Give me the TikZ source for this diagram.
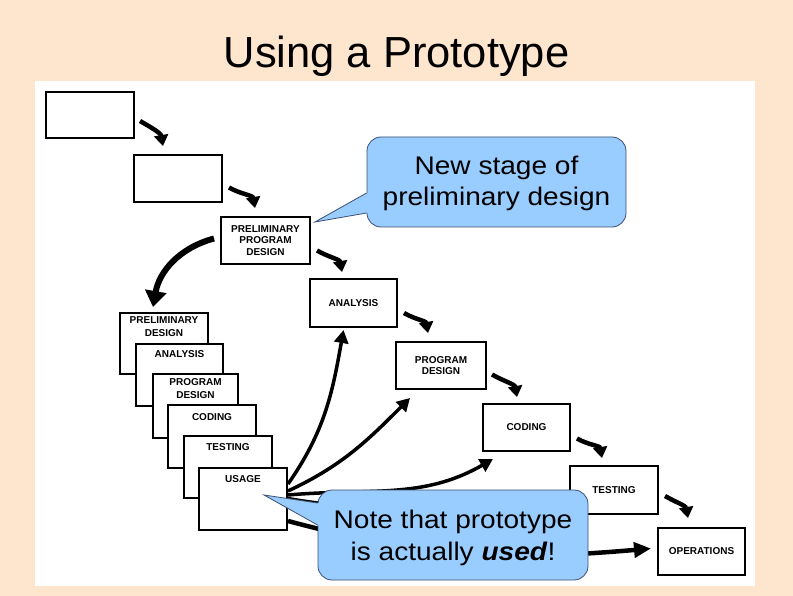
\documentclass[tikz,border=0pt]{standalone}
\usepackage{fontspec}
\setmainfont{Liberation Sans}
\newfontfamily\calfont[FakeStretch=1.1]{Liberation Sans}
\usetikzlibrary{arrows.meta}
\definecolor{peach}{RGB}{254,229,206}
\definecolor{calfill}{RGB}{153,204,255}
\definecolor{caldraw}{RGB}{60,80,115}
\begin{document}
\begin{tikzpicture}[x=1pt,y=1pt,
  box/.style={draw=black,line width=2pt,fill=white,inner sep=0pt,anchor=north west,
              font=\fontsize{10}{11.5}\selectfont\bfseries,align=center},
  lbl/.style={font=\fontsize{10}{12.5}\selectfont\bfseries,align=center,inner sep=0pt,anchor=north},
  stepar/.style={line width=4.5pt,-{Triangle[length=11pt,width=14pt]}},
  bigar/.style={line width=6pt,-{Triangle[length=16pt,width=21pt]}},
  usear/.style={line width=3.5pt,-{Triangle[length=13pt,width=14pt]}},
  cbox/.style={fill=calfill,draw=caldraw,line width=0.8pt,rounded corners=14pt,inner sep=0pt},
  ctext/.style={font=\calfont\fontsize{25.5}{31}\selectfont,anchor=base,inner sep=0pt},
]
\fill[peach] (0,0) rectangle (793,-596);
\useasboundingbox (0,0) rectangle (793,-596);
\fill[white] (35,-81) rectangle (755,-586);

\node[font=\fontsize{43.5}{50}\selectfont,anchor=base,inner sep=0pt] (title) at (396.5,-68) {Using a Prototype};

% main cascade
\node[box,minimum width=88pt,minimum height=46pt] (A) at (45,-91) {};
\node[box,minimum width=88pt,minimum height=47pt] (B) at (133,-154) {};
\node[box,minimum width=89pt,minimum height=47pt] (PPD) at (220,-216) {PRELIMINARY\\PROGRAM\\DESIGN};
\node[box,minimum width=87pt,minimum height=48pt] (ANA) at (309,-278) {ANALYSIS};
\node[box,minimum width=90pt,minimum height=47pt] (PD) at (395,-341) {PROGRAM\\DESIGN};
\node[box,minimum width=87pt,minimum height=47pt] (COD) at (482,-403) {CODING};
\node[box,minimum width=88pt,minimum height=48pt] (TST) at (569,-465) {TESTING};
\node[box,minimum width=87pt,minimum height=47pt] (OPS) at (657,-527) {OPERATIONS};

% prototype stack
\node[box,minimum width=88pt,minimum height=61pt] (s1) at (119,-312) {};
\node[lbl] (s1t) at ([yshift=-4.5pt]s1.north) {PRELIMINARY\\DESIGN};
\node[box,minimum width=87pt,minimum height=62pt] (s2) at (135,-343) {};
\node[lbl] (s2t) at ([yshift=-7.5pt]s2.north) {ANALYSIS};
\node[box,minimum width=85pt,minimum height=64pt] (s3) at (152,-373) {};
\node[lbl] (s3t) at ([yshift=-5.5pt]s3.north) {PROGRAM\\DESIGN};
\node[box,minimum width=88pt,minimum height=63pt] (s4) at (167,-404) {};
\node[lbl] (s4t) at ([yshift=-9.5pt]s4.north) {CODING};
\node[box,minimum width=88pt,minimum height=62pt] (s5) at (183,-435) {};
\node[lbl] (s5t) at ([yshift=-8.5pt]s5.north) {TESTING};
\node[box,minimum width=88pt,minimum height=62pt] (U) at (198,-467) {};
\node[lbl] (Ut) at ([yshift=-8.5pt]U.north) {USAGE};

% step arrows
\draw[stepar] ([shift={(5pt,-6pt)}]A.east) to[out=-30,in=100] ([shift={(30pt,8pt)}]B.north west);
\draw[stepar] ([shift={(6pt,-9pt)}]B.east) to[out=-30,in=100] ([shift={(35pt,8pt)}]PPD.north west);
\draw[stepar] ([shift={(6pt,-10pt)}]PPD.east) to[out=-30,in=100] ([shift={(33pt,6pt)}]ANA.north west);
\draw[stepar] ([shift={(6pt,-10pt)}]ANA.east) to[out=-30,in=100] ([shift={(33pt,8pt)}]PD.north west);
\draw[stepar] ([shift={(5pt,-9pt)}]PD.east) to[out=-30,in=100] ([shift={(35pt,6pt)}]COD.north west);
\draw[stepar] ([shift={(6pt,-11pt)}]COD.east) to[out=-30,in=100] ([shift={(33pt,7pt)}]TST.north west);
\draw[stepar] ([shift={(6pt,-6pt)}]TST.east) to[out=-30,in=100] ([shift={(31pt,9pt)}]OPS.north west);

% back to prototype
\draw[bigar] ([shift={(-6pt,2pt)}]PPD.west) to[out=195,in=80] ([shift={(34pt,5pt)}]s1.north west);

% usage arrows
\draw[usear] ([yshift=15pt]U.east) to[out=55,in=-100] ([shift={(-10pt,-2pt)}]ANA.south);
\draw[usear] ([yshift=8pt]U.east) to[out=25,in=-135] ([shift={(-31pt,-8pt)}]PD.south);
\draw[usear] ([yshift=4pt]U.east) to[out=5,in=-150] ([shift={(11pt,-7pt)}]COD.south west);
\draw[usear,line width=2.5pt] ([yshift=1pt]U.east) to[out=-10,in=180] ([yshift=-10pt]TST.west);
\draw[usear,line width=4.5pt,-{Triangle[length=17pt,width=15pt]}] ([yshift=-22pt]U.east) to[out=-15,in=185] ([shift={(-6pt,3pt)}]OPS.west);

% callout 1
\node[cbox,minimum width=259pt,minimum height=90pt] (c1) at (496.5,-182) {};
\coordinate (c1tip) at ([shift={(4pt,-6pt)}]PPD.north east);
\coordinate (c1a) at ([yshift=-11pt]c1.west);
\coordinate (c1b) at ([yshift=-31pt]c1.west);
\fill[calfill] (c1a) -- (c1tip) -- (c1b) -- ([xshift=3pt]c1b) -- ([xshift=3pt]c1a) -- cycle;
\draw[caldraw,line width=0.8pt] (c1a) -- (c1tip) -- (c1b);
\node[ctext] (c1l1) at (496.5,-175) {New stage of};
\node[ctext] (c1l2) at (496.5,-206) {preliminary design};

% callout 2
\node[cbox,minimum width=270pt,minimum height=90pt] (c2) at (453,-535) {};
\coordinate (c2tip) at ([shift={(21pt,4pt)}]U.center);
\coordinate (c2a) at ([yshift=32pt]c2.west);
\coordinate (c2b) at ([yshift=10pt]c2.west);
\fill[calfill] (c2a) -- (c2tip) -- (c2b) -- ([xshift=3pt]c2b) -- ([xshift=3pt]c2a) -- cycle;
\draw[caldraw,line width=0.8pt] (c2a) -- (c2tip) -- (c2b);
\node[ctext] (c2l1) at (453,-528) {Note that prototype};
\node[ctext] (c2l2) at (453,-560) {is actually \textbf{\textit{used}}!};
\end{tikzpicture}
\end{document}
